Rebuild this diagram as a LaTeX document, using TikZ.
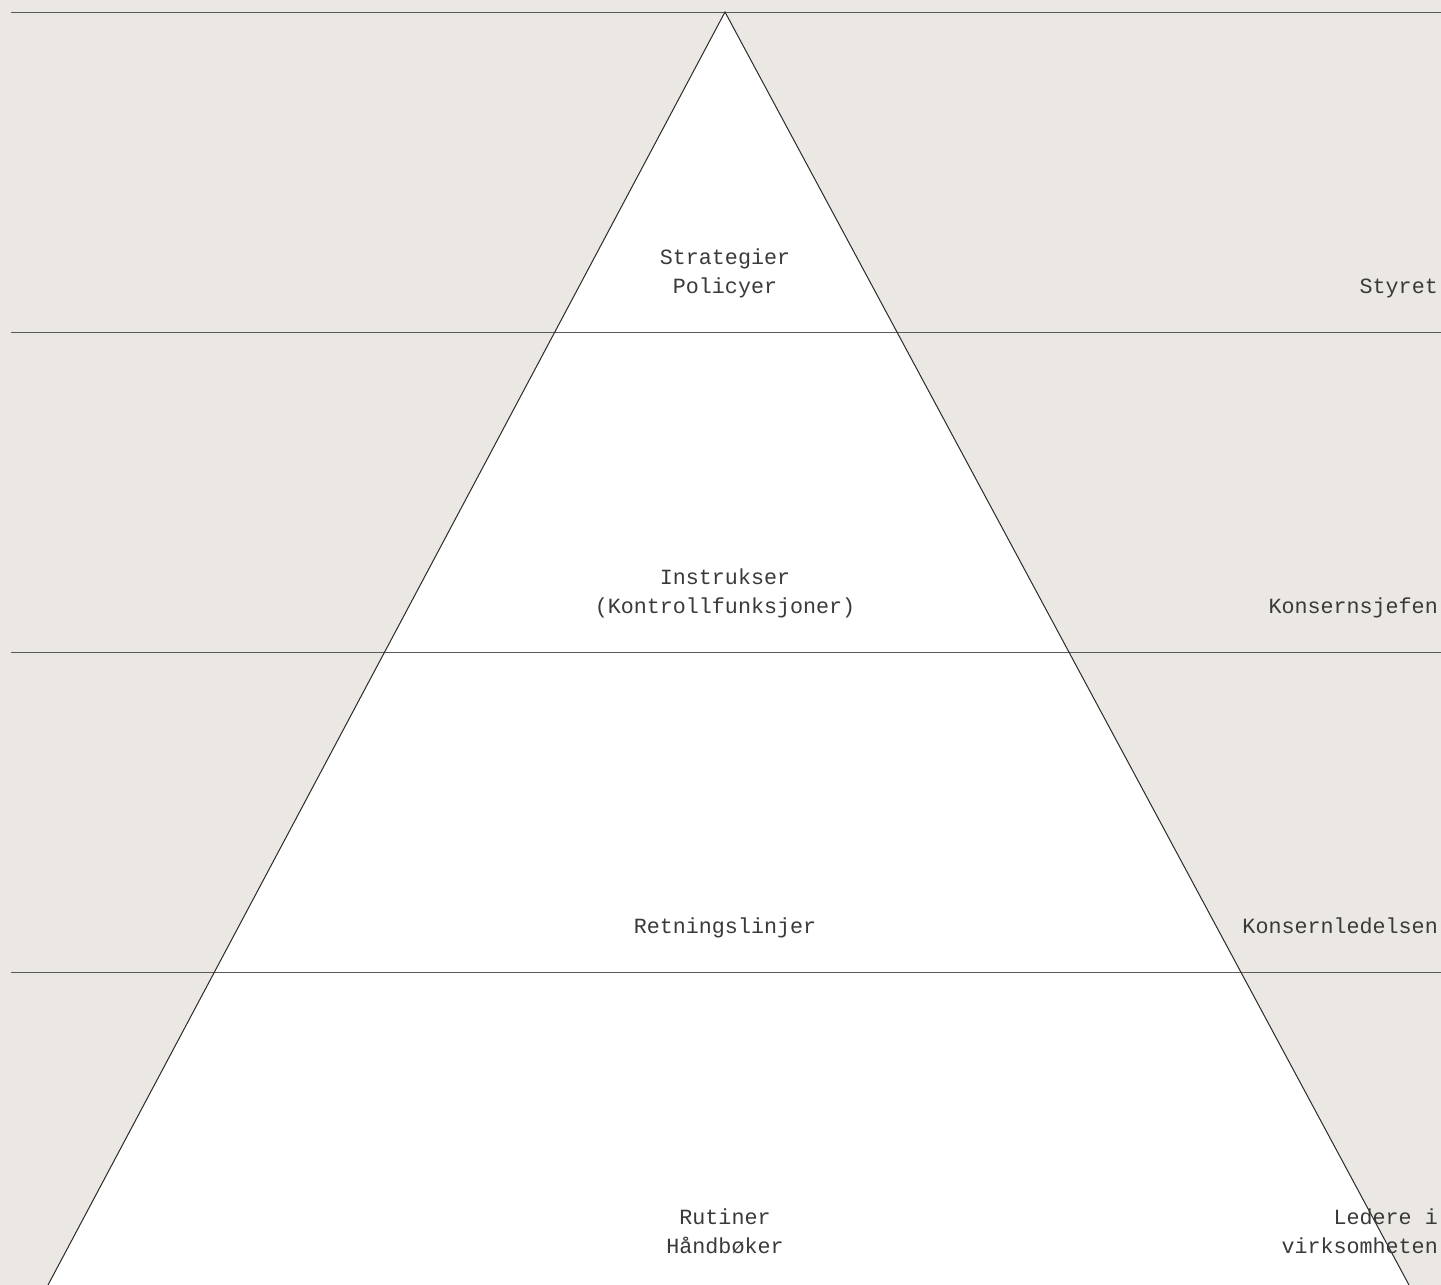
\documentclass[tikz,border=0pt]{standalone}
\usepackage{fontspec}
\setmonofont{Liberation Mono}
\usepackage{tikz}
\usetikzlibrary{positioning}
\definecolor{paper}{HTML}{EBE8E3}
\definecolor{rule}{HTML}{5A5A5A}
\definecolor{ink}{HTML}{2B2B2B}
\definecolor{type}{HTML}{3A3A3A}

\begin{document}
\begin{tikzpicture}[
    x=1pt, y=-1pt,
    level/.style={draw=rule, line width=1pt},
    edge/.style={draw=ink, line width=1pt, line join=miter},
    tier/.style={font=\ttfamily\fontsize{21.7}{29}\selectfont, text=type, align=center, inner sep=0pt, anchor=base},
    role/.style={tier, align=right, anchor=base east}
]
\fill[paper] (0,0) rectangle (1441,1285);
\useasboundingbox (0,0) rectangle (1441,1285);
\coordinate (apex) at (725,12);
\coordinate (baseL) at (48,1285);
\coordinate (baseR) at (1409,1285);
\fill[white] (apex) -- (baseL) -- (baseR) -- cycle;
\foreach \y in {12,332,652,972}
    \draw[level] (11,\y) -- (1441,\y);
\draw[edge] (baseL) -- (apex) -- (baseR);

\node[tier] (strategier) at (725,293) {Strategier\\Policyer};
\node[tier] (instrukser) at (725,613) {Instrukser\\(Kontrollfunksjoner)};
\node[tier] (retning) at (725,933) {Retningslinjer};
\node[tier] (rutiner) at (725,1253) {Rutiner\\Håndbøker};

\node[role] (styret) at (1438,293) {Styret};
\node[role] (sjefen) at (1438,613) {Konsernsjefen};
\node[role] (ledelsen) at (1438,933) {Konsernledelsen};
\node[role] (ledere) at (1438,1253) {Ledere i\\virksomheten};
\end{tikzpicture}
\end{document}
